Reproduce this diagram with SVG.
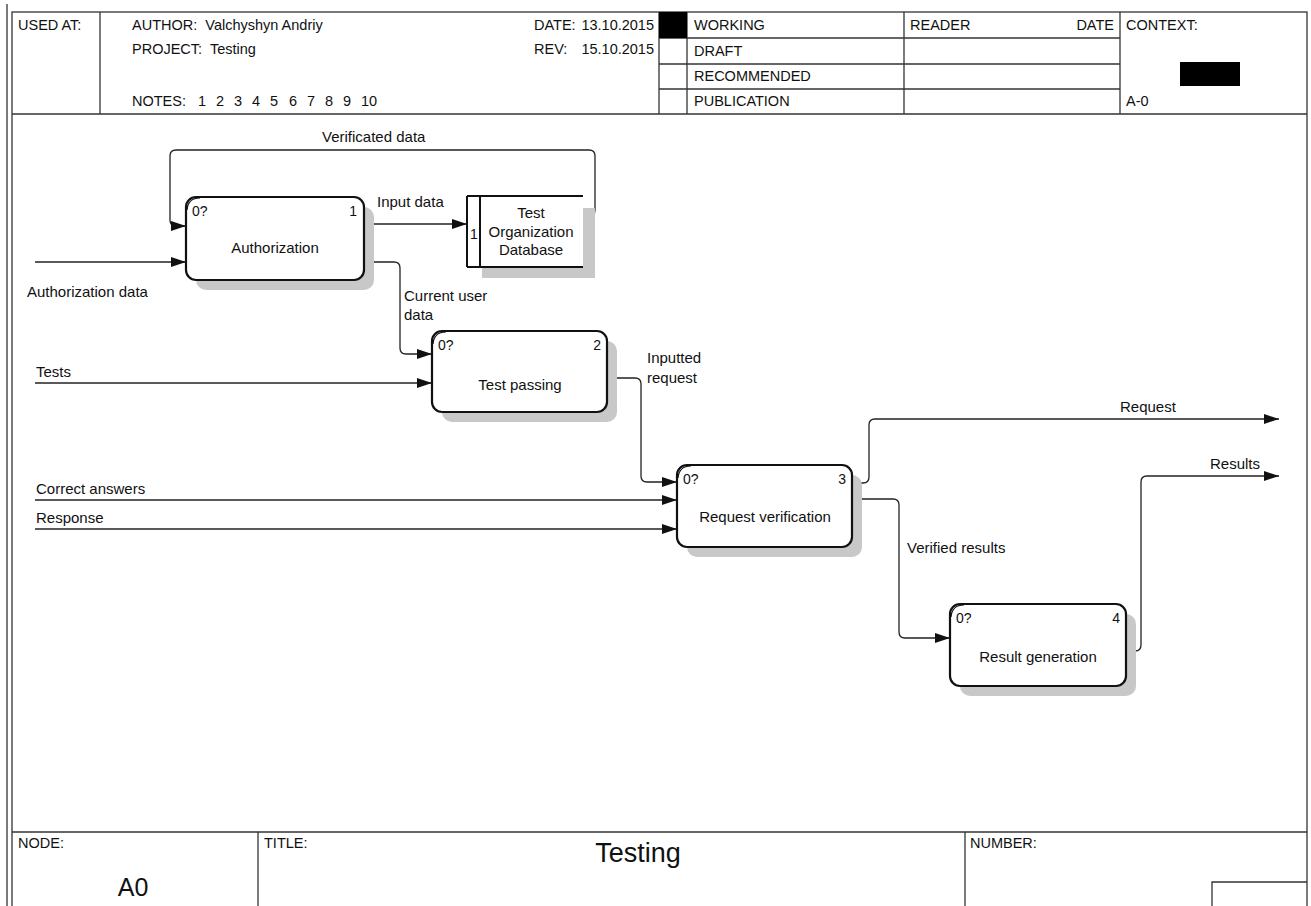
<svg xmlns="http://www.w3.org/2000/svg" width="1311" height="906" viewBox="0 0 1311 906">
<style>
text{font-family:"Liberation Sans",Arial,sans-serif;font-size:15px;fill:#111;white-space:pre}
.hdr{font-size:14.5px}
.frame{fill:none;stroke:#333;stroke-width:1.3}
.box{fill:#fff;stroke:#111;stroke-width:2.2}
.shadow{fill:#c8c8c8;stroke:none}
.conn{fill:none;stroke:#222;stroke-width:1.3}
.mid{text-anchor:middle}
.end{text-anchor:end}
.num{font-size:14px}
</style>
<defs>
<marker id="arr" markerWidth="16" markerHeight="10" refX="15" refY="5" orient="auto" markerUnits="userSpaceOnUse">
<path d="M0,0 L15,5 L0,10 Z" fill="#111"/>
</marker>
</defs>
<rect width="1311" height="906" fill="#fff"/>

<g id="frame">
<line class="frame" x1="7" y1="4" x2="7" y2="906"/>
<rect class="frame" x="12" y="12" width="1295" height="900"/>
<line class="frame" x1="12" y1="114" x2="1307" y2="114"/>
<line class="frame" x1="100" y1="12" x2="100" y2="114"/>
<line class="frame" x1="659" y1="12" x2="659" y2="114"/>
<line class="frame" x1="687" y1="12" x2="687" y2="114"/>
<line class="frame" x1="904" y1="12" x2="904" y2="114"/>
<line class="frame" x1="1120" y1="12" x2="1120" y2="114"/>
<line class="frame" x1="659" y1="38" x2="1120" y2="38"/>
<line class="frame" x1="659" y1="64" x2="1120" y2="64"/>
<line class="frame" x1="659" y1="89" x2="1120" y2="89"/>
<rect x="659" y="12" width="28" height="26" fill="#000"/>
<rect x="1180" y="62" width="60" height="24" fill="#000"/>
<text class="hdr" x="18" y="30">USED AT:</text>
<text class="hdr" x="132" y="30">AUTHOR:  Valchyshyn Andriy</text>
<text class="hdr" x="534" y="30">DATE:</text>
<text class="hdr end" x="654" y="30">13.10.2015</text>
<text class="hdr" x="132" y="54">PROJECT:  Testing</text>
<text class="hdr" x="534" y="54">REV:</text>
<text class="hdr end" x="654" y="54">15.10.2015</text>
<text class="hdr" x="132" y="106">NOTES:<tspan x="198">1</tspan><tspan x="216">2</tspan><tspan x="234">3</tspan><tspan x="252">4</tspan><tspan x="270">5</tspan><tspan x="289">6</tspan><tspan x="307">7</tspan><tspan x="325">8</tspan><tspan x="343">9</tspan><tspan x="361">10</tspan></text>
<text class="hdr" x="694" y="30">WORKING</text>
<text class="hdr" x="694" y="56">DRAFT</text>
<text class="hdr" x="694" y="81">RECOMMENDED</text>
<text class="hdr" x="694" y="106">PUBLICATION</text>
<text class="hdr" x="910" y="30">READER</text>
<text class="hdr end" x="1114" y="30">DATE</text>
<text class="hdr" x="1126" y="30">CONTEXT:</text>
<text class="hdr" x="1126" y="106">A-0</text>
<line class="frame" x1="12" y1="832" x2="1307" y2="832"/>
<line class="frame" x1="258" y1="832" x2="258" y2="906"/>
<line class="frame" x1="965" y1="832" x2="965" y2="906"/>
<polyline class="frame" points="1212,906 1212,882 1307,882"/>
<text class="hdr" x="18" y="848">NODE:</text>
<text class="hdr" x="264" y="848">TITLE:</text>
<text class="hdr" x="970" y="848">NUMBER:</text>
<text x="638" y="862" class="mid" style="font-size:27px">Testing</text>
<text x="133" y="896" class="mid" style="font-size:25px">A0</text>
</g>

<g id="connectors">
<path class="conn" d="M583,216 H589 Q595,216 595,210 V156 Q595,150 589,150 H176 Q170,150 170,156 V220 Q170,226 176,226 H186" marker-end="url(#arr)"/>
<text x="322" y="142">Verificated data</text>
<path class="conn" d="M35,262 H186" marker-end="url(#arr)"/>
<text x="27" y="297">Authorization data</text>
<path class="conn" d="M364,224 H467" marker-end="url(#arr)"/>
<text x="377" y="207">Input data</text>
<path class="conn" d="M364,262 H394 Q400,262 400,268 V348 Q400,354 406,354 H432" marker-end="url(#arr)"/>
<text x="404" y="301">Current user</text>
<text x="404" y="320">data</text>
<path class="conn" d="M35,383 H432" marker-end="url(#arr)"/>
<text x="36" y="377">Tests</text>
<path class="conn" d="M607,378 H635 Q641,378 641,384 V476 Q641,482 647,482 H677" marker-end="url(#arr)"/>
<text x="647" y="363">Inputted</text>
<text x="647" y="383">request</text>
<path class="conn" d="M35,500 H677" marker-end="url(#arr)"/>
<text x="36" y="494">Correct answers</text>
<path class="conn" d="M35,529 H677" marker-end="url(#arr)"/>
<text x="36" y="523">Response</text>
<path class="conn" d="M852,483 H863 Q869,483 869,477 V425 Q869,419 875,419 H1279" marker-end="url(#arr)"/>
<text x="1120" y="412">Request</text>
<path class="conn" d="M852,499 H893 Q899,499 899,505 V632 Q899,638 905,638 H950" marker-end="url(#arr)"/>
<text x="907" y="553">Verified results</text>
<path class="conn" d="M1126,651 H1135 Q1141,651 1141,645 V482 Q1141,476 1147,476 H1279" marker-end="url(#arr)"/>
<text x="1210" y="469">Results</text>
</g>

<g id="node-1">
<rect class="shadow" x="196" y="207" width="178" height="83" rx="10"/>
<rect class="box" x="186" y="197" width="178" height="83" rx="10"/>
<path d="M187,210 Q188,198 200,198" fill="none" stroke="#111" stroke-width="1.2"/>
<text class="num" x="192" y="216">0?</text>
<text class="num end" x="357" y="216">1</text>
<text x="275" y="253" class="mid">Authorization</text>
</g>

<g id="node-db">
<rect class="shadow" x="482" y="208" width="113" height="70"/>
<rect x="467" y="196" width="116" height="71" fill="#fff"/>
<line x1="467" y1="196" x2="583" y2="196" stroke="#111" stroke-width="2"/>
<line x1="467" y1="267" x2="583" y2="267" stroke="#111" stroke-width="2"/>
<line x1="467" y1="196" x2="467" y2="267" stroke="#111" stroke-width="2"/>
<line x1="480" y1="196" x2="480" y2="267" stroke="#111" stroke-width="2"/>
<text class="num" x="470" y="239">1</text>
<text x="531" y="218" class="mid">Test</text>
<text x="531" y="237" class="mid">Organization</text>
<text x="531" y="255" class="mid">Database</text>
</g>

<g id="node-2">
<rect class="shadow" x="442" y="341" width="175" height="81" rx="10"/>
<rect class="box" x="432" y="331" width="175" height="81" rx="10"/>
<path d="M433,344 Q434,332 446,332" fill="none" stroke="#111" stroke-width="1.2"/>
<text class="num" x="438" y="350">0?</text>
<text class="num end" x="601" y="350">2</text>
<text x="520" y="390" class="mid">Test passing</text>
</g>

<g id="node-3">
<rect class="shadow" x="687" y="475" width="175" height="82" rx="10"/>
<rect class="box" x="677" y="465" width="175" height="82" rx="10"/>
<path d="M678,478 Q679,466 691,466" fill="none" stroke="#111" stroke-width="1.2"/>
<text class="num" x="683" y="484">0?</text>
<text class="num end" x="846" y="484">3</text>
<text x="765" y="522" class="mid">Request verification</text>
</g>

<g id="node-4">
<rect class="shadow" x="960" y="614" width="176" height="82" rx="10"/>
<rect class="box" x="950" y="604" width="176" height="82" rx="10"/>
<path d="M951,617 Q952,605 964,605" fill="none" stroke="#111" stroke-width="1.2"/>
<text class="num" x="956" y="623">0?</text>
<text class="num end" x="1120" y="623">4</text>
<text x="1038" y="662" class="mid">Result generation</text>
</g>
</svg>
